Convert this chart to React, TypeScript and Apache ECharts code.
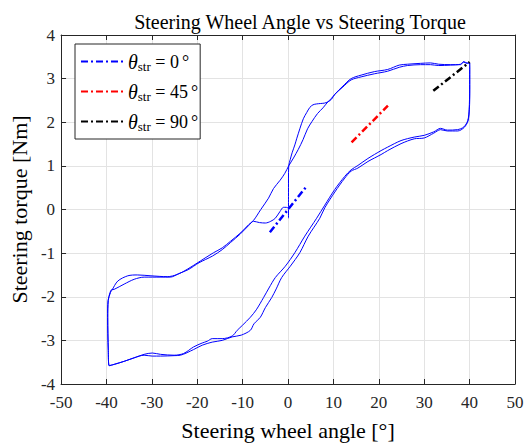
import React, { useEffect, useRef } from "react";
import * as echarts from "echarts";

// Hysteresis trace (steering wheel angle [deg], steering torque [Nm]) in drawing order
const traceAngle: number[] = [
  0.1, 0.1, 0.1, 0.15,
  0.5, 0.9, 1.5, 1.9, 2.6, 3.37, 4.1, 4.8, 5.5, 6.3, 7.2, 8.1, 9.0, 9.6, 10.3, 12.1, 13.9, 16.1, 19.0, 21.95, 24.5, 26.3, 29.2, 31.4, 33.2, 35.8, 38.0, 38.7, 39.4, 40.0,
  40.0, 40.0, 39.9, 39.6, 38.7, 37.3, 35.1, 33.6, 32.1, 30.0, 27.8, 24.9, 21.95, 20.5, 17.6, 15.4, 13.9, 12.5, 10.3, 8.1, 6.3, 3.7, 1.5, -0.6, -2.8, -4.2, -5.4, -7.0, -8.3, -10.0, -11.2, -12.3, -14.5, -16.7, -17.8, -18.9, -20.8, -23.0, -25.1, -28.1, -29.9, -31.7, -33.9, -36.1, -38.3, -39.4,
  -39.6, -39.7, -39.6, -39.1, -38.8,
  -37.5, -35.3, -33.2, -30.2, -26.6, -24.4, -22.2, -19.3, -16.4, -14.5, -12.7, -10.5, -8.7, -7.6,
  -6.0, -4.3, -3.2, -1.75, -0.7, 0.15,
  1.2, 2.27, 3.3, 4.3, 5.3, 6.5, 7.7, 8.8, 9.6, 10.3, 12.1, 13.9, 16.1, 19.0, 21.95, 24.5, 26.3, 29.2, 31.4, 33.2, 35.8, 38.0, 38.7, 39.4, 40.0,
  40.05, 40.05, 39.95, 39.65, 38.8, 37.4, 35.1, 33.6, 32.1, 30.0, 27.8, 24.9, 21.95, 20.5, 17.6, 15.4, 13.9, 12.5, 10.3, 8.1, 7.0, 4.46, 2.6, 0.5, -1.4, -2.6, -3.6, -5.0, -6.1, -7.5, -8.3, -10.3, -12.3, -14.5, -16.7, -18.9, -20.8, -23.7, -25.1, -28.1, -29.9, -31.7, -33.9, -36.1, -38.3, -39.4,
  -39.6, -39.75, -39.65, -39.2, -38.9,
  -38.3, -36.1, -33.9, -31.7, -28.0, -25.9, -24.1, -22.0, -19.6, -16.7, -14.5, -12.7, -10.5, -8.7, -7.6,
  -6.3, -5.0, -3.8, -2.8, -1.8, -1.0, -0.4, 0.1,
];
const traceTorque: number[] = [
  -0.2, 0.3, 0.7, 1.0,
  1.15, 1.3, 1.48, 1.62, 1.85, 2.08, 2.22, 2.34, 2.4, 2.42, 2.43, 2.44, 2.48, 2.53, 2.64, 2.83, 3.0, 3.08, 3.16, 3.21, 3.31, 3.33, 3.35, 3.36, 3.33, 3.32, 3.32, 3.38, 3.35, 3.36,
  3.21, 2.76, 2.3, 2.04, 1.89, 1.83, 1.82, 1.86, 1.78, 1.7, 1.66, 1.58, 1.43, 1.35, 1.17, 1.01, 0.91, 0.76, 0.46, 0.1, -0.2, -0.61, -0.99, -1.3, -1.56, -1.8, -2.02, -2.3, -2.47, -2.65, -2.77, -2.9, -2.96, -2.96, -3.02, -3.06, -3.15, -3.3, -3.34, -3.32, -3.29, -3.32, -3.4, -3.48, -3.55, -3.58,
  -3.23, -2.47, -2.09, -1.9, -1.85,
  -1.64, -1.52, -1.5, -1.52, -1.54, -1.49, -1.37, -1.18, -0.99, -0.88, -0.73, -0.54, -0.35, -0.25,
  0.0, 0.26, 0.48, 0.67, 0.83, 1.0,
  1.18, 1.38, 1.6, 1.85, 2.02, 2.2, 2.33, 2.47, 2.55, 2.64, 2.81, 2.97, 3.04, 3.11, 3.17, 3.26, 3.3, 3.32, 3.32, 3.3, 3.31, 3.33, 3.39, 3.36, 3.36,
  3.2, 2.76, 2.3, 2.03, 1.88, 1.8, 1.8, 1.83, 1.75, 1.64, 1.62, 1.51, 1.35, 1.26, 1.1, 0.95, 0.88, 0.72, 0.4, 0.04, -0.2, -0.61, -0.99, -1.3, -1.56, -1.82, -2.02, -2.25, -2.47, -2.62, -2.77, -2.88, -2.92, -3.0, -3.04, -3.11, -3.21, -3.34, -3.35, -3.36, -3.36, -3.34, -3.4, -3.48, -3.55, -3.58,
  -3.23, -2.47, -2.09, -1.9, -1.84,
  -1.83, -1.71, -1.6, -1.55, -1.55, -1.55, -1.47, -1.38, -1.22, -1.07, -0.92, -0.76, -0.56, -0.37, -0.27,
  -0.3, -0.31, -0.27, -0.2, -0.05, 0.05, 0.05, 0.03,
];

// Dash-dot reference lines (endpoints)
const line0Angle = [-4, 4];
const line0Torque = [-0.52, 0.52];
const line45Angle = [14, 22];
const line45Torque = [1.54, 2.38];
const line90Angle = [32, 40];
const line90Torque = [2.72, 3.38];

const legendNames = ["θstr = 0°", "θstr = 45°", "θstr = 90°"];
const legendValues = ["0", "45", "90"];

const xTicks = { min: -50, max: 50, interval: 10 };
const yTicks = { min: -4, max: 4, interval: 1 };

const zip = (a: number[], b: number[]) => a.map((v, i) => [v, b[i]]);

const FONT = "'Liberation Serif', 'DejaVu Serif', serif";
const AX = "#262626";
const DASHDOT = [7, 3, 2, 3];

export default function App() {
  const ref = useRef<HTMLDivElement>(null);
  useEffect(() => {
    if (!ref.current) return;
    const chart = echarts.init(ref.current, null, { renderer: "svg" });
    const baseX = {
      type: "value" as const,
      min: xTicks.min,
      max: xTicks.max,
      interval: xTicks.interval,
      axisLine: { onZero: false, lineStyle: { color: AX, width: 1 } },
      axisTick: { inside: true, length: 5, lineStyle: { color: AX } },
    };
    const baseY = {
      type: "value" as const,
      min: yTicks.min,
      max: yTicks.max,
      interval: yTicks.interval,
      axisLine: { onZero: false, lineStyle: { color: AX, width: 1 } },
      axisTick: { inside: true, length: 5, lineStyle: { color: AX } },
    };
    const richFor = {
      th: { fontFamily: FONT, fontStyle: "italic", fontSize: 20, lineHeight: 22, color: "#000" },
      s: { fontFamily: FONT, fontSize: 13, lineHeight: 14, color: "#000", padding: [10, 0, 0, 0] },
      r: { fontFamily: FONT, fontSize: 18, lineHeight: 22, color: "#000" },
      d: { fontFamily: FONT, fontSize: 18, lineHeight: 22, color: "#000", padding: [0, 0, 0, 3] },
    };
    chart.setOption({
      animation: false,
      backgroundColor: "#fff",
      title: {
        text: "Steering Wheel Angle vs Steering Torque",
        left: 295,
        textAlign: "center",
        top: 7,
        textStyle: { fontFamily: FONT, fontSize: 20, fontWeight: "normal", color: "#000" },
      },
      grid: { left: 58, right: 12, top: 35, bottom: 59, containLabel: false },
      legend: {
        data: legendNames,
        orient: "vertical",
        left: 75,
        top: 44,
        padding: [6, 2, 6, 5],
        itemGap: 7,
        itemWidth: 42,
        itemHeight: 14,
        backgroundColor: "#fff",
        borderColor: "#262626",
        borderWidth: 1,
        formatter: (name: string) => {
          const i = legendNames.indexOf(name);
          return `{th|θ}{s|str}{r| = ${legendValues[i]}}{d|°}`;
        },
        textStyle: { rich: richFor },
        itemStyle: { opacity: 0 },
      },
      xAxis: [
        {
          ...baseX,
          position: "bottom",
          name: "Steering wheel angle [°]",
          nameLocation: "middle",
          nameGap: 35,
          nameTextStyle: { fontFamily: FONT, fontSize: 22, color: "#000" },
          axisLabel: { fontFamily: FONT, fontSize: 17, color: AX, margin: 10 },
          splitLine: { show: true, lineStyle: { color: "#e3e3e3", width: 1 } },
        },
        {
          ...baseX,
          position: "top",
          axisLabel: { show: false },
          splitLine: { show: false },
        },
      ],
      yAxis: [
        {
          ...baseY,
          position: "left",
          name: "Steering torque [Nm]",
          nameLocation: "middle",
          nameGap: 30,
          nameTextStyle: { fontFamily: FONT, fontSize: 22, color: "#000" },
          axisLabel: { fontFamily: FONT, fontSize: 17, color: AX, margin: 6 },
          splitLine: { show: true, lineStyle: { color: "#e3e3e3", width: 1 } },
        },
        {
          ...baseY,
          position: "right",
          axisLabel: { show: false },
          splitLine: { show: false },
        },
      ],
      series: [
        {
          type: "line",
          name: "trace",
          data: zip(traceAngle, traceTorque),
          showSymbol: false,
          symbol: "none",
          smooth: 0.3,
          lineStyle: { color: "#0000ff", width: 1 },
          itemStyle: { color: "#0000ff" },
          z: 2,
        },
        {
          type: "line",
          name: legendNames[0],
          data: zip(line0Angle, line0Torque),
          symbol: "none",
          lineStyle: { color: "#0000ff", width: 2.5, type: DASHDOT },
          itemStyle: { color: "#0000ff" },
          z: 3,
        },
        {
          type: "line",
          name: legendNames[1],
          data: zip(line45Angle, line45Torque),
          symbol: "none",
          lineStyle: { color: "#ff0000", width: 2.5, type: DASHDOT },
          itemStyle: { color: "#ff0000" },
          z: 3,
        },
        {
          type: "line",
          name: legendNames[2],
          data: zip(line90Angle, line90Torque),
          symbol: "none",
          lineStyle: { color: "#000000", width: 2.5, type: DASHDOT },
          itemStyle: { color: "#000000" },
          z: 3,
        },
      ],
    });
    return () => chart.dispose();
  }, []);
  return (
    <div
      ref={ref}
      style={{ position: "absolute", left: 0, top: 0, width: 527, height: 446 }}
    />
  );
}
